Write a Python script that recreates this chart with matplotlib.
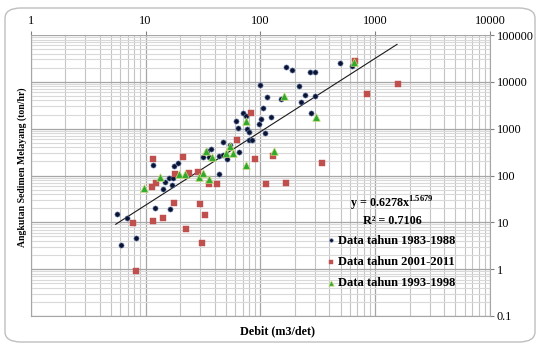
import numpy as np
import matplotlib
matplotlib.use('Agg')
import matplotlib.pyplot as plt
from matplotlib.patches import FancyBboxPatch
from matplotlib.ticker import LogLocator, FixedLocator, NullFormatter

plt.rcParams['font.family'] = ['Liberation Serif', 'DejaVu Serif']
plt.rcParams['mathtext.fontset'] = 'custom'
plt.rcParams['mathtext.rm'] = 'Liberation Serif'
plt.rcParams['mathtext.bf'] = 'Liberation Serif:bold'

# Data tahun 1983-1988 (debit m3/det, angkutan ton/hr)
x_8388 = [5.61, 6.86, 6.12, 8.26, 12.2, 16.3, 14.3, 14.8, 16.9, 16.1, 17.4, 11.6, 17.8, 19.3,
          43.9, 31.9, 35.9, 34.3, 37.2, 43.9, 47.6, 50.8, 47.3, 54.5, 65.6, 60.8, 63.6, 71.1,
          74.3, 77.1, 80.2, 80.2, 84.1, 98.0, 100.4, 104.5, 110.6, 99.4, 113.2, 124.7, 152.4,
          168.2, 188.8, 217.3, 224, 244.2, 272.2, 300.7, 296.6, 278, 489.8, 622.7]
y_8388 = [15.3, 12.2, 3.36, 4.63, 20.2, 19.0, 52.3, 72.7, 61.2, 89.8, 88.5, 165, 160, 188,
          109, 252, 245, 334, 363, 265, 270, 222, 507, 459, 313, 1459, 1034, 2130,
          1866, 960, 849, 573, 573, 1241, 1610, 2723, 809, 8570, 4677, 1733, 4264,
          20750, 17740, 8280, 3675, 5320, 16480, 16480, 4910, 2142, 25640, 22020]

# Data tahun 2001-2011
x_0111 = [7.83, 8.26, 11.3, 12.3, 11.6, 21.1, 11.6, 14.3, 17.7, 22.4, 29.8, 32.8, 31.2, 18.2,
          24.1, 28.4, 35.9, 41.7, 62.1, 82.5, 90.3, 129, 112.8, 168.2, 346.7, 668, 845, 1574]
y_0111 = [9.54, 0.906, 56.9, 68.2, 229, 245, 10.8, 12.2, 26.5, 7.2, 24.6, 14.1, 3.62, 106,
          111, 121, 64.3, 65.9, 565, 2130, 229, 255, 65.9, 67.5, 183, 28300, 5500, 8780]

# Data tahun 1993-1998
x_9398 = [9.70, 13.4, 19.6, 22.2, 29.4, 31.9, 35.9, 33.9, 38.1, 54.5, 50.3, 58.2, 74.3,
          74.8, 132.2, 161.5, 306.9, 651]
y_9398 = [52.8, 95.2, 107, 107, 91.6, 115, 82.2, 326, 252, 427, 298, 298, 1459,
          164, 326, 4940, 1733, 26550]

# trend line y = 0.6278 x^1.5679
coef_a = 0.6278
coef_b = 1.5679
x_trend = np.logspace(np.log10(5.5), np.log10(1550), 50)

fig = plt.figure(figsize=(5.38, 3.45), dpi=100)
border = FancyBboxPatch((5 / 538, 3 / 345), 530 / 538, 334 / 345,
                        boxstyle='round,pad=0,rounding_size=0.03',
                        transform=fig.transFigure, fc='none', ec='#bfbfbf', lw=1.0, zorder=-1)
fig.patches.append(border)
ax = fig.add_axes([30.7 / 538, 1 - 316 / 345, 459.3 / 538, 281 / 345])
ax.set_facecolor('none')
ax.set_xscale('log')
ax.set_yscale('log')
ax.set_xlim(1, 10000)
ax.set_ylim(0.1, 100000)

ax.grid(True, which='major', color='#a6a6a6', lw=0.9)
ax.grid(True, which='minor', axis='y', color='#d9d9d9', lw=0.8)
ax.grid(True, which='minor', axis='x', color='#c4c4c4', lw=0.8)
ax.set_axisbelow(True)

ax.plot(x_trend, coef_a * x_trend ** coef_b, color='#1a1a1a', lw=0.8, zorder=2)
ax.scatter(x_8388, y_8388, marker='o', s=14, color='#0b1533', edgecolors='#6f86b8',
           linewidths=0.4, zorder=3, label='Data tahun 1983-1988')
ax.scatter(x_0111, y_0111, marker='s', s=22, color='#c0504d', edgecolors='#c0504d',
           linewidths=0.3, zorder=3, label='Data tahun 2001-2011')
ax.scatter(x_9398, y_9398, marker='^', s=30, color='#2faa2f', edgecolors='#c9d97a',
           linewidths=0.5, zorder=4, label='Data tahun 1993-1998')

ax.xaxis.tick_top()
ax.yaxis.tick_right()
ax.xaxis.set_major_locator(FixedLocator([1, 10, 100, 1000, 10000]))
ax.set_xticklabels(['1', '10', '100', '1000', '10000'])
ax.yaxis.set_major_locator(FixedLocator([0.1, 1, 10, 100, 1000, 10000, 100000]))
ax.set_yticklabels(['0.1', '1', '10', '100', '1000', '10000', '100000'])
ax.xaxis.set_minor_locator(LogLocator(base=10, subs=np.arange(2, 10)))
ax.yaxis.set_minor_locator(LogLocator(base=10, subs=np.arange(2, 10)))
ax.xaxis.set_minor_formatter(NullFormatter())
ax.yaxis.set_minor_formatter(NullFormatter())
ax.tick_params(which='minor', length=0)
ax.tick_params(axis='x', which='major', length=3, color='#808080', labelsize=8.8, pad=3)
ax.tick_params(axis='y', which='major', length=3, color='#808080', labelsize=8.8, pad=2)
for s in ['left', 'bottom', 'right']:
    ax.spines[s].set_color('#a6a6a6')
ax.spines['top'].set_visible(False)

fig.text(392 / 538, 1 - 204 / 345, r'y = 0.6278x$^{\mathbf{1.5679}}$', ha='center', va='center',
         fontsize=8.7, fontweight='bold')
fig.text(392 / 538, 1 - 220.5 / 345, 'R² = 0.7106', ha='center', va='center',
         fontsize=8.7, fontweight='bold')

ax.legend(loc='upper left', bbox_to_anchor=(287 / 459.3, 1 - 191 / 281), frameon=False,
          prop={'weight': 'bold', 'size': 9}, handletextpad=0.1,
          labelspacing=0.75, markerscale=0.7, borderpad=0.2, handlelength=0.8)

fig.text(22 / 538, 1 - 167 / 345, 'Angkutan Sedimen Melayang (ton/hr)', rotation=90,
         ha='center', va='center', fontsize=7, fontweight='bold')
fig.text(277 / 538, 1 - 331 / 345, 'Debit (m3/det)', ha='center', va='center',
         fontsize=8.7, fontweight='bold')

fig.savefig('out.png', dpi=100)
